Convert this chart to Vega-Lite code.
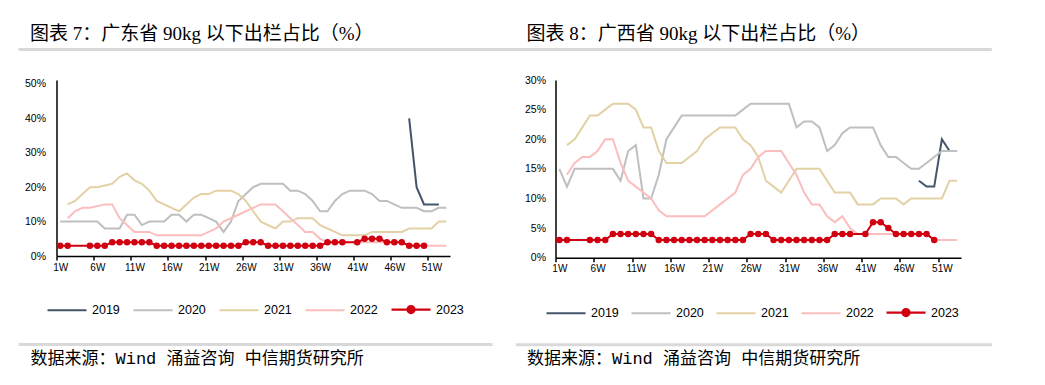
{
  "$schema": "https://vega.github.io/schema/vega-lite/v6.json",
  "padding": {"left": 19.5, "top": 25, "right": 5, "bottom": 5},
  "background": "white",
  "spacing": -38,
  "config": {"view": {"stroke": null}, "axis": {"grid": false}},
  "datasets": {
    "gd": [
      {"year":"2019","week":48,"value":40},{"year":"2019","week":49,"value":20},{"year":"2019","week":50,"value":15},{"year":"2019","week":51,"value":15},{"year":"2019","week":52,"value":15},
      {"year":"2020","week":1,"value":10},{"year":"2020","week":2,"value":10},{"year":"2020","week":3,"value":10},{"year":"2020","week":4,"value":10},{"year":"2020","week":5,"value":10},{"year":"2020","week":6,"value":10},{"year":"2020","week":7,"value":8},{"year":"2020","week":8,"value":8},{"year":"2020","week":9,"value":8},{"year":"2020","week":10,"value":12},{"year":"2020","week":11,"value":12},{"year":"2020","week":12,"value":9},{"year":"2020","week":13,"value":10},{"year":"2020","week":14,"value":10},{"year":"2020","week":15,"value":10},{"year":"2020","week":16,"value":12},{"year":"2020","week":17,"value":12},{"year":"2020","week":18,"value":10},{"year":"2020","week":19,"value":12},{"year":"2020","week":20,"value":12},{"year":"2020","week":21,"value":11},{"year":"2020","week":22,"value":10},{"year":"2020","week":23,"value":7},{"year":"2020","week":24,"value":10},{"year":"2020","week":25,"value":16},{"year":"2020","week":26,"value":18},{"year":"2020","week":27,"value":20},{"year":"2020","week":28,"value":21},{"year":"2020","week":29,"value":21},{"year":"2020","week":30,"value":21},{"year":"2020","week":31,"value":21},{"year":"2020","week":32,"value":19},{"year":"2020","week":33,"value":19},{"year":"2020","week":34,"value":18},{"year":"2020","week":35,"value":16},{"year":"2020","week":36,"value":13},{"year":"2020","week":37,"value":13},{"year":"2020","week":38,"value":16},{"year":"2020","week":39,"value":18},{"year":"2020","week":40,"value":19},{"year":"2020","week":41,"value":19},{"year":"2020","week":42,"value":19},{"year":"2020","week":43,"value":18},{"year":"2020","week":44,"value":16},{"year":"2020","week":45,"value":16},{"year":"2020","week":46,"value":15},{"year":"2020","week":47,"value":14},{"year":"2020","week":48,"value":14},{"year":"2020","week":49,"value":14},{"year":"2020","week":50,"value":13},{"year":"2020","week":51,"value":13},{"year":"2020","week":52,"value":14},{"year":"2020","week":53,"value":14},
      {"year":"2021","week":2,"value":15},{"year":"2021","week":3,"value":16},{"year":"2021","week":4,"value":18},{"year":"2021","week":5,"value":20},{"year":"2021","week":6,"value":20},{"year":"2021","week":7,"value":20.5},{"year":"2021","week":8,"value":21},{"year":"2021","week":9,"value":23},{"year":"2021","week":10,"value":24},{"year":"2021","week":11,"value":22},{"year":"2021","week":12,"value":21},{"year":"2021","week":13,"value":19},{"year":"2021","week":14,"value":16},{"year":"2021","week":15,"value":15},{"year":"2021","week":16,"value":14},{"year":"2021","week":17,"value":13},{"year":"2021","week":18,"value":15},{"year":"2021","week":19,"value":17},{"year":"2021","week":20,"value":18},{"year":"2021","week":21,"value":18},{"year":"2021","week":22,"value":19},{"year":"2021","week":23,"value":19},{"year":"2021","week":24,"value":19},{"year":"2021","week":25,"value":18},{"year":"2021","week":26,"value":16},{"year":"2021","week":27,"value":13},{"year":"2021","week":28,"value":10},{"year":"2021","week":29,"value":9},{"year":"2021","week":30,"value":8},{"year":"2021","week":31,"value":10},{"year":"2021","week":32,"value":10},{"year":"2021","week":33,"value":11},{"year":"2021","week":34,"value":11},{"year":"2021","week":35,"value":11},{"year":"2021","week":36,"value":9},{"year":"2021","week":37,"value":8},{"year":"2021","week":38,"value":7},{"year":"2021","week":39,"value":6},{"year":"2021","week":40,"value":6},{"year":"2021","week":41,"value":6},{"year":"2021","week":42,"value":6},{"year":"2021","week":43,"value":7},{"year":"2021","week":44,"value":7},{"year":"2021","week":45,"value":7},{"year":"2021","week":46,"value":7},{"year":"2021","week":47,"value":7},{"year":"2021","week":48,"value":8},{"year":"2021","week":49,"value":8},{"year":"2021","week":50,"value":8},{"year":"2021","week":51,"value":8},{"year":"2021","week":52,"value":10},{"year":"2021","week":53,"value":10},
      {"year":"2022","week":2,"value":11},{"year":"2022","week":3,"value":13},{"year":"2022","week":4,"value":14},{"year":"2022","week":5,"value":14},{"year":"2022","week":6,"value":14.5},{"year":"2022","week":7,"value":15},{"year":"2022","week":8,"value":15},{"year":"2022","week":9,"value":11},{"year":"2022","week":10,"value":9},{"year":"2022","week":11,"value":7},{"year":"2022","week":12,"value":7},{"year":"2022","week":13,"value":7},{"year":"2022","week":14,"value":6},{"year":"2022","week":15,"value":6},{"year":"2022","week":16,"value":6},{"year":"2022","week":17,"value":6},{"year":"2022","week":18,"value":6},{"year":"2022","week":19,"value":6},{"year":"2022","week":20,"value":6},{"year":"2022","week":21,"value":7},{"year":"2022","week":22,"value":8},{"year":"2022","week":23,"value":10},{"year":"2022","week":24,"value":11},{"year":"2022","week":25,"value":12},{"year":"2022","week":26,"value":13},{"year":"2022","week":27,"value":14},{"year":"2022","week":28,"value":15},{"year":"2022","week":29,"value":15},{"year":"2022","week":30,"value":15},{"year":"2022","week":31,"value":13},{"year":"2022","week":32,"value":11},{"year":"2022","week":33,"value":9},{"year":"2022","week":34,"value":7},{"year":"2022","week":35,"value":7},{"year":"2022","week":36,"value":5},{"year":"2022","week":37,"value":4},{"year":"2022","week":38,"value":4},{"year":"2022","week":39,"value":4},{"year":"2022","week":40,"value":4},{"year":"2022","week":41,"value":4},{"year":"2022","week":42,"value":4},{"year":"2022","week":43,"value":4},{"year":"2022","week":44,"value":4},{"year":"2022","week":45,"value":4},{"year":"2022","week":46,"value":4},{"year":"2022","week":47,"value":4},{"year":"2022","week":48,"value":3},{"year":"2022","week":49,"value":3},{"year":"2022","week":50,"value":3},{"year":"2022","week":51,"value":3},{"year":"2022","week":52,"value":3},{"year":"2022","week":53,"value":3},
      {"year":"2023","week":1,"value":3},{"year":"2023","week":2,"value":3},{"year":"2023","week":5,"value":3},{"year":"2023","week":6,"value":3},{"year":"2023","week":7,"value":3},{"year":"2023","week":8,"value":4},{"year":"2023","week":9,"value":4},{"year":"2023","week":10,"value":4},{"year":"2023","week":11,"value":4},{"year":"2023","week":12,"value":4},{"year":"2023","week":13,"value":4},{"year":"2023","week":14,"value":3},{"year":"2023","week":15,"value":3},{"year":"2023","week":16,"value":3},{"year":"2023","week":17,"value":3},{"year":"2023","week":18,"value":3},{"year":"2023","week":19,"value":3},{"year":"2023","week":20,"value":3},{"year":"2023","week":21,"value":3},{"year":"2023","week":22,"value":3},{"year":"2023","week":23,"value":3},{"year":"2023","week":24,"value":3},{"year":"2023","week":25,"value":3},{"year":"2023","week":26,"value":4},{"year":"2023","week":27,"value":4},{"year":"2023","week":28,"value":4},{"year":"2023","week":29,"value":3},{"year":"2023","week":30,"value":3},{"year":"2023","week":31,"value":3},{"year":"2023","week":32,"value":3},{"year":"2023","week":33,"value":3},{"year":"2023","week":34,"value":3},{"year":"2023","week":35,"value":3},{"year":"2023","week":36,"value":3},{"year":"2023","week":37,"value":4},{"year":"2023","week":38,"value":4},{"year":"2023","week":39,"value":4},{"year":"2023","week":41,"value":4},{"year":"2023","week":42,"value":5},{"year":"2023","week":43,"value":5},{"year":"2023","week":44,"value":5},{"year":"2023","week":45,"value":4},{"year":"2023","week":46,"value":4},{"year":"2023","week":47,"value":4},{"year":"2023","week":48,"value":3},{"year":"2023","week":49,"value":3},{"year":"2023","week":50,"value":3}
    ],
    "gx": [
      {"year":"2019","week":48,"value":13},{"year":"2019","week":49,"value":12},{"year":"2019","week":50,"value":12},{"year":"2019","week":51,"value":20},{"year":"2019","week":52,"value":18},
      {"year":"2020","week":1,"value":15},{"year":"2020","week":2,"value":12},{"year":"2020","week":3,"value":15},{"year":"2020","week":4,"value":15},{"year":"2020","week":5,"value":15},{"year":"2020","week":6,"value":15},{"year":"2020","week":7,"value":15},{"year":"2020","week":8,"value":15},{"year":"2020","week":9,"value":13},{"year":"2020","week":10,"value":18},{"year":"2020","week":11,"value":19},{"year":"2020","week":12,"value":10},{"year":"2020","week":13,"value":10},{"year":"2020","week":14,"value":14},{"year":"2020","week":15,"value":20},{"year":"2020","week":16,"value":22},{"year":"2020","week":17,"value":24},{"year":"2020","week":18,"value":24},{"year":"2020","week":19,"value":24},{"year":"2020","week":20,"value":24},{"year":"2020","week":21,"value":24},{"year":"2020","week":22,"value":24},{"year":"2020","week":23,"value":24},{"year":"2020","week":24,"value":24},{"year":"2020","week":25,"value":25},{"year":"2020","week":26,"value":26},{"year":"2020","week":27,"value":26},{"year":"2020","week":28,"value":26},{"year":"2020","week":29,"value":26},{"year":"2020","week":30,"value":26},{"year":"2020","week":31,"value":26},{"year":"2020","week":32,"value":22},{"year":"2020","week":33,"value":23},{"year":"2020","week":34,"value":23},{"year":"2020","week":35,"value":22},{"year":"2020","week":36,"value":18},{"year":"2020","week":37,"value":19},{"year":"2020","week":38,"value":21},{"year":"2020","week":39,"value":22},{"year":"2020","week":40,"value":22},{"year":"2020","week":41,"value":22},{"year":"2020","week":42,"value":22},{"year":"2020","week":43,"value":19},{"year":"2020","week":44,"value":17},{"year":"2020","week":45,"value":17},{"year":"2020","week":46,"value":16},{"year":"2020","week":47,"value":15},{"year":"2020","week":48,"value":15},{"year":"2020","week":49,"value":16},{"year":"2020","week":50,"value":17},{"year":"2020","week":51,"value":18},{"year":"2020","week":52,"value":18},{"year":"2020","week":53,"value":18},
      {"year":"2021","week":2,"value":19},{"year":"2021","week":3,"value":20},{"year":"2021","week":4,"value":22},{"year":"2021","week":5,"value":24},{"year":"2021","week":6,"value":24},{"year":"2021","week":7,"value":25},{"year":"2021","week":8,"value":26},{"year":"2021","week":9,"value":26},{"year":"2021","week":10,"value":26},{"year":"2021","week":11,"value":25},{"year":"2021","week":12,"value":22},{"year":"2021","week":13,"value":22},{"year":"2021","week":14,"value":18},{"year":"2021","week":15,"value":16},{"year":"2021","week":16,"value":16},{"year":"2021","week":17,"value":16},{"year":"2021","week":18,"value":17},{"year":"2021","week":19,"value":18},{"year":"2021","week":20,"value":20},{"year":"2021","week":21,"value":21},{"year":"2021","week":22,"value":22},{"year":"2021","week":23,"value":22},{"year":"2021","week":24,"value":22},{"year":"2021","week":25,"value":20},{"year":"2021","week":26,"value":19},{"year":"2021","week":27,"value":17},{"year":"2021","week":28,"value":13},{"year":"2021","week":29,"value":12},{"year":"2021","week":30,"value":11},{"year":"2021","week":31,"value":13},{"year":"2021","week":32,"value":15},{"year":"2021","week":33,"value":15},{"year":"2021","week":34,"value":15},{"year":"2021","week":35,"value":15},{"year":"2021","week":36,"value":13},{"year":"2021","week":37,"value":11},{"year":"2021","week":38,"value":11},{"year":"2021","week":39,"value":11},{"year":"2021","week":40,"value":9},{"year":"2021","week":41,"value":9},{"year":"2021","week":42,"value":9},{"year":"2021","week":43,"value":10},{"year":"2021","week":44,"value":10},{"year":"2021","week":45,"value":10},{"year":"2021","week":46,"value":9},{"year":"2021","week":47,"value":10},{"year":"2021","week":48,"value":10},{"year":"2021","week":49,"value":10},{"year":"2021","week":50,"value":10},{"year":"2021","week":51,"value":10},{"year":"2021","week":52,"value":13},{"year":"2021","week":53,"value":13},
      {"year":"2022","week":2,"value":14},{"year":"2022","week":3,"value":16},{"year":"2022","week":4,"value":17},{"year":"2022","week":5,"value":17},{"year":"2022","week":6,"value":18},{"year":"2022","week":7,"value":20},{"year":"2022","week":8,"value":20},{"year":"2022","week":9,"value":16},{"year":"2022","week":10,"value":13},{"year":"2022","week":11,"value":12},{"year":"2022","week":12,"value":11},{"year":"2022","week":13,"value":10},{"year":"2022","week":14,"value":8},{"year":"2022","week":15,"value":7},{"year":"2022","week":16,"value":7},{"year":"2022","week":17,"value":7},{"year":"2022","week":18,"value":7},{"year":"2022","week":19,"value":7},{"year":"2022","week":20,"value":7},{"year":"2022","week":21,"value":8},{"year":"2022","week":22,"value":9},{"year":"2022","week":23,"value":10},{"year":"2022","week":24,"value":11},{"year":"2022","week":25,"value":14},{"year":"2022","week":26,"value":15},{"year":"2022","week":27,"value":17},{"year":"2022","week":28,"value":18},{"year":"2022","week":29,"value":18},{"year":"2022","week":30,"value":18},{"year":"2022","week":31,"value":16},{"year":"2022","week":32,"value":14},{"year":"2022","week":33,"value":11},{"year":"2022","week":34,"value":9},{"year":"2022","week":35,"value":9},{"year":"2022","week":36,"value":7},{"year":"2022","week":37,"value":6},{"year":"2022","week":38,"value":7},{"year":"2022","week":39,"value":5},{"year":"2022","week":40,"value":4},{"year":"2022","week":41,"value":4},{"year":"2022","week":42,"value":4},{"year":"2022","week":43,"value":4},{"year":"2022","week":44,"value":4},{"year":"2022","week":45,"value":4},{"year":"2022","week":46,"value":4},{"year":"2022","week":47,"value":4},{"year":"2022","week":48,"value":4},{"year":"2022","week":49,"value":4},{"year":"2022","week":50,"value":3},{"year":"2022","week":51,"value":3},{"year":"2022","week":52,"value":3},{"year":"2022","week":53,"value":3},
      {"year":"2023","week":1,"value":3},{"year":"2023","week":2,"value":3},{"year":"2023","week":5,"value":3},{"year":"2023","week":6,"value":3},{"year":"2023","week":7,"value":3},{"year":"2023","week":8,"value":4},{"year":"2023","week":9,"value":4},{"year":"2023","week":10,"value":4},{"year":"2023","week":11,"value":4},{"year":"2023","week":12,"value":4},{"year":"2023","week":13,"value":4},{"year":"2023","week":14,"value":3},{"year":"2023","week":15,"value":3},{"year":"2023","week":16,"value":3},{"year":"2023","week":17,"value":3},{"year":"2023","week":18,"value":3},{"year":"2023","week":19,"value":3},{"year":"2023","week":20,"value":3},{"year":"2023","week":21,"value":3},{"year":"2023","week":22,"value":3},{"year":"2023","week":23,"value":3},{"year":"2023","week":24,"value":3},{"year":"2023","week":25,"value":3},{"year":"2023","week":26,"value":4},{"year":"2023","week":27,"value":4},{"year":"2023","week":28,"value":4},{"year":"2023","week":29,"value":3},{"year":"2023","week":30,"value":3},{"year":"2023","week":31,"value":3},{"year":"2023","week":32,"value":3},{"year":"2023","week":33,"value":3},{"year":"2023","week":34,"value":3},{"year":"2023","week":35,"value":3},{"year":"2023","week":36,"value":3},{"year":"2023","week":37,"value":4},{"year":"2023","week":38,"value":4},{"year":"2023","week":39,"value":4},{"year":"2023","week":41,"value":4},{"year":"2023","week":42,"value":6},{"year":"2023","week":43,"value":6},{"year":"2023","week":44,"value":5},{"year":"2023","week":45,"value":4},{"year":"2023","week":46,"value":4},{"year":"2023","week":47,"value":4},{"year":"2023","week":48,"value":4},{"year":"2023","week":49,"value":4},{"year":"2023","week":50,"value":3}
    ]
  },
  "resolve": {"scale": {"color": "independent"}, "legend": {"color": "independent"}},
  "hconcat": [
    {
      "width": 393.5,
      "height": 176,
      "data": {"name": "gd"},
      "title": {"text": "图表 7：广东省 90kg 以下出栏占比（%）", "anchor": "start", "frame": "group", "dx": -26.5, "offset": 5, "font": "Liberation Serif, Noto Sans CJK SC", "fontSize": 19, "fontWeight": "normal", "color": "#000000"},
      "encoding": {
        "y": {"field": "value", "type": "quantitative", "title": null,
          "scale": {"domain": [0, 51.16], "nice": false, "zero": true},
          "axis": {"values": [0, 10, 20, 30, 40, 50], "labelExpr": "datum.value + '%'", "ticks": false, "labelPadding": 11, "labelFont": "Liberation Sans", "labelFontSize": 10.5, "labelColor": "#000000", "domainColor": "#000000", "domainWidth": 1.5, "title": null}}
      },
      "resolve": {"scale": {"x": "independent"}},
      "layer": [
        {
          "mark": {"type": "line", "strokeWidth": 2},
          "encoding": {
            "x": {"field": "week", "type": "quantitative", "title": null,
              "scale": {"domain": [0.5, 53.5], "nice": false, "zero": false},
              "axis": {"orient": "bottom", "values": [1, 6, 11, 16, 21, 26, 31, 36, 41, 46, 51], "labelExpr": "datum.value + 'W'", "tickOffset": -3.7, "labelOffset": 3.7, "tickSize": 4, "tickWidth": 1.5, "tickColor": "#000000", "domainColor": "#000000", "domainWidth": 1.5, "labelFont": "Liberation Sans", "labelFontSize": 10, "labelColor": "#000000", "labelPadding": 2, "title": null}},
            "color": {"field": "year", "type": "nominal",
              "scale": {"domain": ["2019", "2020", "2021", "2022", "2023"], "range": ["#44546A", "#BFBFBF", "#E3D1A5", "#FBBDBD", "#D00010"]},
              "legend": {"orient": "none", "legendX": -10.5, "legendY": 208.5, "direction": "horizontal", "title": null, "symbolType": "stroke", "symbolSize": 1521, "symbolStrokeWidth": 2.2, "labelFont": "Liberation Sans", "labelFontSize": 12.5, "labelColor": "#000000", "labelOffset": 4, "columnPadding": 9,
                "encode": {"symbols": {"update": {
                  "shape": {"signal": "datum.value == '2023' ? 'M-1,0L1,0M0.18,0A0.18,0.18,0,1,1,-0.18,0A0.18,0.18,0,1,1,0.18,0Z' : 'stroke'"},
                  "fill": {"signal": "datum.value == '2023' ? '#D00010' : 'transparent'"}}}}}}
          }
        },
        {
          "transform": [{"filter": "datum.year == '2023'"}],
          "mark": {"type": "point", "filled": true, "size": 42, "color": "#D00010", "opacity": 1},
          "encoding": {
            "x": {"field": "week", "type": "quantitative", "scale": {"domain": [0.5, 53.5], "nice": false, "zero": false}, "axis": null}
          }
        },
        {
          "transform": [{"filter": "datum.year == '2023'"}],
          "mark": {"type": "point", "opacity": 0},
          "encoding": {
            "x": {"field": "week", "type": "quantitative", "scale": {"domain": [0.5, 53.5], "nice": false, "zero": false, "range": [-38.5, 459.5]},
              "axis": {"orient": "top", "offset": 31, "domainColor": "#D9D9D9", "domainWidth": 3, "labels": false, "ticks": false, "title": null}}
          }
        },
        {
          "transform": [{"filter": "datum.year == '2023'"}],
          "mark": {"type": "point", "opacity": 0},
          "encoding": {
            "x": {"field": "week", "type": "quantitative", "scale": {"domain": [0.5, 53.5], "nice": false, "zero": false, "range": [-38.5, 435.5]},
              "axis": {"orient": "bottom", "offset": 88, "domainColor": "#D9D9D9", "domainWidth": 3, "labels": false, "ticks": false,
                "title": "数据来源：Wind 涌益咨询 中信期货研究所", "titleX": -26.5, "titleY": 14.5, "titleAlign": "left", "titleBaseline": "middle", "titleAngle": 0, "titleFont": "Liberation Mono, Noto Sans CJK SC", "titleFontSize": 17, "titleFontWeight": "normal", "titleColor": "#000000"}}
          }
        }
      ]
    },
    {
      "width": 405.5,
      "height": 177.7,
      "data": {"name": "gx"},
      "title": {"text": "图表 8：广西省 90kg 以下出栏占比（%）", "anchor": "start", "frame": "group", "dx": -29, "offset": 5, "font": "Liberation Serif, Noto Sans CJK SC", "fontSize": 19, "fontWeight": "normal", "color": "#000000"},
      "encoding": {
        "y": {"field": "value", "type": "quantitative", "title": null,
          "scale": {"domain": [0, 30], "nice": false, "zero": true},
          "axis": {"values": [0, 5, 10, 15, 20, 25, 30], "labelExpr": "datum.value + '%'", "ticks": false, "labelPadding": 10, "labelFont": "Liberation Sans", "labelFontSize": 10.5, "labelColor": "#000000", "domainColor": "#000000", "domainWidth": 1.5, "title": null}}
      },
      "resolve": {"scale": {"x": "independent"}},
      "layer": [
        {
          "mark": {"type": "line", "strokeWidth": 2},
          "encoding": {
            "x": {"field": "week", "type": "quantitative", "title": null,
              "scale": {"domain": [0.5, 53.5], "nice": false, "zero": false},
              "axis": {"orient": "bottom", "values": [1, 6, 11, 16, 21, 26, 31, 36, 41, 46, 51], "labelExpr": "datum.value + 'W'", "tickOffset": -3.8, "labelOffset": 3.8, "tickSize": 4, "tickWidth": 1.5, "tickColor": "#000000", "domainColor": "#000000", "domainWidth": 1.5, "labelFont": "Liberation Sans", "labelFontSize": 10, "labelColor": "#000000", "labelPadding": 2, "title": null}},
            "color": {"field": "year", "type": "nominal",
              "scale": {"domain": ["2019", "2020", "2021", "2022", "2023"], "range": ["#44546A", "#BFBFBF", "#E3D1A5", "#FBBDBD", "#D00010"]},
              "legend": {"orient": "none", "legendX": -10.5, "legendY": 211.5, "direction": "horizontal", "title": null, "symbolType": "stroke", "symbolSize": 1521, "symbolStrokeWidth": 2.2, "labelFont": "Liberation Sans", "labelFontSize": 12.5, "labelColor": "#000000", "labelOffset": 4, "columnPadding": 8,
                "encode": {"symbols": {"update": {
                  "shape": {"signal": "datum.value == '2023' ? 'M-1,0L1,0M0.18,0A0.18,0.18,0,1,1,-0.18,0A0.18,0.18,0,1,1,0.18,0Z' : 'stroke'"},
                  "fill": {"signal": "datum.value == '2023' ? '#D00010' : 'transparent'"}}}}}}
          }
        },
        {
          "transform": [{"filter": "datum.year == '2023'"}],
          "mark": {"type": "point", "filled": true, "size": 42, "color": "#D00010", "opacity": 1},
          "encoding": {
            "x": {"field": "week", "type": "quantitative", "scale": {"domain": [0.5, 53.5], "nice": false, "zero": false}, "axis": null}
          }
        },
        {
          "transform": [{"filter": "datum.year == '2023'"}],
          "mark": {"type": "point", "opacity": 0},
          "encoding": {
            "x": {"field": "week", "type": "quantitative", "scale": {"domain": [0.5, 53.5], "nice": false, "zero": false, "range": [-40.2, 435.8]},
              "axis": {"orient": "top", "offset": 31, "domainColor": "#D9D9D9", "domainWidth": 3, "labels": false, "ticks": false, "title": null}}
          }
        },
        {
          "transform": [{"filter": "datum.year == '2023'"}],
          "mark": {"type": "point", "opacity": 0},
          "encoding": {
            "x": {"field": "week", "type": "quantitative", "scale": {"domain": [0.5, 53.5], "nice": false, "zero": false, "range": [-40.2, 435.8]},
              "axis": {"orient": "bottom", "offset": 86.5, "domainColor": "#D9D9D9", "domainWidth": 3, "labels": false, "ticks": false,
                "title": "数据来源：Wind 涌益咨询 中信期货研究所", "titleX": -29, "titleY": 14.5, "titleAlign": "left", "titleBaseline": "middle", "titleAngle": 0, "titleFont": "Liberation Mono, Noto Sans CJK SC", "titleFontSize": 17, "titleFontWeight": "normal", "titleColor": "#000000"}}
          }
        }
      ]
    }
  ]
}
